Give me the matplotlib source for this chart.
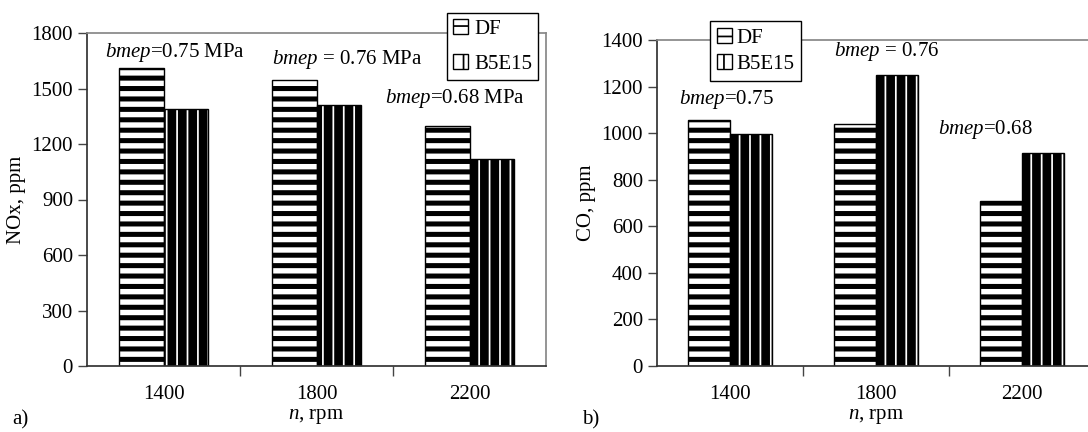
import matplotlib
matplotlib.use('Agg')
import matplotlib.pyplot as plt
import numpy as np

plt.rcParams['font.family'] = ['Liberation Serif', 'DejaVu Serif']
plt.rcParams['mathtext.fontset'] = 'custom'
plt.rcParams['mathtext.rm'] = 'Liberation Serif'
plt.rcParams['mathtext.it'] = 'Liberation Serif:italic'
plt.rcParams['font.size'] = 12

# data
speeds = ['1400', '1800', '2200']
series = ['DF', 'B5E15']
nox_df = [1610, 1545, 1300]
nox_b5 = [1390, 1410, 1120]
co_df = [1055, 1040, 710]
co_b5 = [995, 1250, 915]
nox_notes = ['$\\it{bmep}$=0.75 MPa', '$\\it{bmep}$ = 0.76 MPa', '$\\it{bmep}$=0.68 MPa']
co_notes = ['$\\it{bmep}$=0.75', '$\\it{bmep}$ = 0.76', '$\\it{bmep}$=0.68']

DPI = 125
fig = plt.figure(figsize=(1088 / DPI, 432 / DPI), dpi=DPI)
ax1 = fig.add_axes([87 / 1088, 66 / 432, 459 / 1088, 333 / 432])
ax2 = fig.add_axes([657 / 1088, 66 / 432, 438 / 1088, 326 / 432])

w = 0.29
x = np.arange(len(speeds))
HLW_H = 2.9
HLW_V = 5.0


def draw_bars(ax, df, b5):
    with plt.rc_context({'hatch.linewidth': HLW_H}):
        b1 = ax.bar(x - w / 2, df, w, facecolor='white', edgecolor='black',
                    hatch='--', linewidth=0.8, label=series[0])
    with plt.rc_context({'hatch.linewidth': HLW_V}):
        b2 = ax.bar(x + w / 2, b5, w, facecolor='white', edgecolor='black',
                    hatch='||', linewidth=0.8, label=series[1])
    for p in b1:
        if hasattr(p, 'set_hatch_linewidth'):
            p.set_hatch_linewidth(HLW_H)
    for p in b2:
        if hasattr(p, 'set_hatch_linewidth'):
            p.set_hatch_linewidth(HLW_V)
    return b1, b2


def style(ax, ymax, step, ylabel):
    ax.set_xlim(-0.5, 2.5)
    ax.set_ylim(0, ymax)
    ax.set_yticks(np.arange(0, ymax + 1, step))
    ax.set_xticks([0.5, 1.5])
    ax.set_xticklabels([])
    ax.set_xticks(x, minor=True)
    ax.set_xticklabels(speeds, minor=True)
    ax.tick_params(axis='x', which='major', direction='out', length=6, width=0.8, color='#444444')
    ax.tick_params(axis='x', which='minor', length=0, pad=11)
    ax.tick_params(axis='y', direction='out', length=5, width=0.8, color='#444444', pad=3)
    ax.spines['left'].set_color('#333333')
    ax.spines['bottom'].set_color('#333333')
    ax.spines['top'].set_color('#888888')
    ax.spines['right'].set_color('#888888')
    for s in ax.spines.values():
        s.set_linewidth(1.0)
    ax.set_ylabel(ylabel, labelpad=3)
    ax.set_xlabel('$\\it{n}$, rpm', labelpad=1.5)


draw_bars(ax1, nox_df, nox_b5)
style(ax1, 1800, 300, 'NOx, ppm')
for (tx, ty), t in zip([(0.075, 1692), (1.20, 1659), (1.905, 1448)], nox_notes):
    ax1.text(tx, ty, t, ha='center', va='center')

draw_bars(ax2, co_df, co_b5)
style(ax2, 1400, 200, 'CO, ppm')
for (tx, ty), t in zip([(-0.024, 1145), (1.072, 1351), (1.747, 1016)], co_notes):
    ax2.text(tx, ty, t, ha='center', va='center')

leg1 = ax1.legend(loc='upper left', bbox_to_anchor=(447 / 1088, 1 - 13 / 432),
                  bbox_transform=fig.transFigure, frameon=True, fancybox=False,
                  framealpha=1, edgecolor='black', handlelength=0.7, handleheight=0.7,
                  handletextpad=0.3, labelspacing=0.75, borderpad=0.3, borderaxespad=0)
leg1.get_frame().set_linewidth(0.8)
leg1.set_zorder(5)
leg2 = ax2.legend(loc='upper left', bbox_to_anchor=(710 / 1088, 1 - 21 / 432),
                  bbox_transform=fig.transFigure, frameon=True, fancybox=False,
                  framealpha=1, edgecolor='black', handlelength=0.7, handleheight=0.7,
                  handletextpad=0.2, labelspacing=0.3, borderpad=0.35, borderaxespad=0)
leg2.get_frame().set_linewidth(0.8)

fig.text(12 / 1088, 1 - 420 / 432, 'a)', ha='left', va='center')
fig.text(582 / 1088, 1 - 420 / 432, 'b)', ha='left', va='center')

fig.savefig('out.png', dpi=DPI)
